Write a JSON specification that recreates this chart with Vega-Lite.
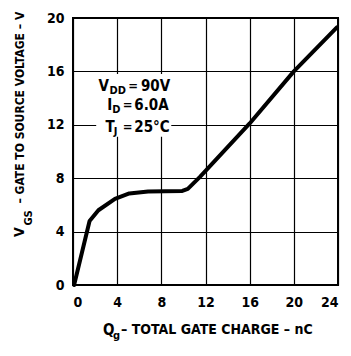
{
  "$schema": "https://vega.github.io/schema/vega-lite/v6.json",
  "width": 265,
  "height": 267,
  "autosize": {"type": "none"},
  "padding": {"left": 73, "top": 18, "right": 13, "bottom": 71},
  "background": "white",
  "config": {
    "font": "DejaVu Sans Condensed",
    "view": {"stroke": "black", "strokeWidth": 2},
    "axis": {
      "grid": true, "gridColor": "black", "gridOpacity": 1, "gridWidth": 1.2,
      "domain": false, "ticks": false, "labelFont": "DejaVu Sans Condensed",
      "labelFontWeight": "bold", "labelFontSize": 14, "labelColor": "black",
      "title": null
    }
  },
  "layer": [
    {
      "data": {"values": [{"x": 2.1, "x2": 8.9, "y": 11.1, "y2": 15.8}]},
      "mark": {"type": "rect", "fill": "white"},
      "encoding": {
        "x": {"field": "x", "type": "quantitative", "scale": {"domain": [0, 24], "nice": false},
              "axis": {"values": [0, 4, 8, 12, 16, 20, 24], "labelPadding": 10}},
        "x2": {"field": "x2"},
        "y": {"field": "y", "type": "quantitative", "scale": {"domain": [0, 20], "nice": false},
              "axis": {"values": [0, 4, 8, 12, 16, 20], "labelPadding": 9}},
        "y2": {"field": "y2"}
      }
    },
    {
      "data": {"values": [
        {"q": 0.1, "v": 0.0}, {"q": 1.5, "v": 4.8}, {"q": 2.3, "v": 5.6},
        {"q": 3.8, "v": 6.45}, {"q": 5.1, "v": 6.86}, {"q": 6.8, "v": 7.0},
        {"q": 9.9, "v": 7.05}, {"q": 10.4, "v": 7.2}, {"q": 11.5, "v": 8.1},
        {"q": 16.0, "v": 12.1}, {"q": 20.0, "v": 16.0}, {"q": 23.9, "v": 19.3}
      ]},
      "mark": {"type": "line", "color": "black", "strokeWidth": 4, "strokeJoin": "round", "strokeCap": "round"},
      "encoding": {
        "x": {"field": "q", "type": "quantitative"},
        "y": {"field": "v", "type": "quantitative"}
      }
    },
    {
      "data": {"values": [
        {"x": 2.3, "y": 14.87, "t": "V"},
        {"x": 6.15, "y": 14.87, "t": "90V"},
        {"x": 3.1, "y": 13.45, "t": "I"},
        {"x": 5.55, "y": 13.45, "t": "6.0A"},
        {"x": 2.95, "y": 11.8, "t": "T"},
        {"x": 5.55, "y": 11.8, "t": "25°C"},
        {"x": 2.72, "y": -3.36, "t": "Q"}
      ]},
      "mark": {"type": "text", "align": "left", "baseline": "middle", "fontSize": 15, "fontWeight": "bold", "color": "black"},
      "encoding": {
        "x": {"field": "x", "type": "quantitative"},
        "y": {"field": "y", "type": "quantitative"},
        "text": {"field": "t"}
      }
    },
    {
      "data": {"values": [
        {"x": 5.0, "y": 14.87, "t": "="},
        {"x": 4.5, "y": 13.45, "t": "="},
        {"x": 4.5, "y": 11.8, "t": "="}
      ]},
      "mark": {"type": "text", "align": "left", "baseline": "middle", "fontSize": 13, "fontWeight": "bold", "color": "black"},
      "encoding": {
        "x": {"field": "x", "type": "quantitative"},
        "y": {"field": "y", "type": "quantitative"},
        "text": {"field": "t"}
      }
    },
    {
      "data": {"values": [
        {"x": 4.35, "y": -3.36, "t": "– TOTAL GATE CHARGE – nC"}
      ]},
      "mark": {"type": "text", "align": "left", "baseline": "middle", "fontSize": 14, "fontWeight": "bold", "color": "black"},
      "encoding": {
        "x": {"field": "x", "type": "quantitative"},
        "y": {"field": "y", "type": "quantitative"},
        "text": {"field": "t"}
      }
    },
    {
      "data": {"values": [
        {"x": 3.3, "y": 14.5, "t": "DD"},
        {"x": 3.55, "y": 13.08, "t": "D"},
        {"x": 3.7, "y": 11.46, "t": "J"},
        {"x": 3.62, "y": -3.8, "t": "g"}
      ]},
      "mark": {"type": "text", "align": "left", "baseline": "middle", "fontSize": 11, "fontWeight": "bold", "color": "black"},
      "encoding": {
        "x": {"field": "x", "type": "quantitative"},
        "y": {"field": "y", "type": "quantitative"},
        "text": {"field": "t"}
      }
    },
    {
      "data": {"values": [
        {"x": -4.8, "y": 3.59, "t": "V"}
      ]},
      "mark": {"type": "text", "align": "left", "baseline": "middle", "angle": 270, "fontSize": 14, "fontWeight": "bold", "color": "black"},
      "encoding": {
        "x": {"field": "x", "type": "quantitative"},
        "y": {"field": "y", "type": "quantitative"},
        "text": {"field": "t"}
      }
    },
    {
      "data": {"values": [
        {"x": -4.8, "y": 6.1, "t": "– GATE TO SOURCE VOLTAGE – V"}
      ]},
      "mark": {"type": "text", "align": "left", "baseline": "middle", "angle": 270, "fontSize": 12, "fontWeight": "bold", "color": "black"},
      "encoding": {
        "x": {"field": "x", "type": "quantitative"},
        "y": {"field": "y", "type": "quantitative"},
        "text": {"field": "t"}
      }
    },
    {
      "data": {"values": [
        {"x": -4.0, "y": 4.45, "t": "GS"}
      ]},
      "mark": {"type": "text", "align": "left", "baseline": "middle", "angle": 270, "fontSize": 11, "fontWeight": "bold", "color": "black"},
      "encoding": {
        "x": {"field": "x", "type": "quantitative"},
        "y": {"field": "y", "type": "quantitative"},
        "text": {"field": "t"}
      }
    }
  ]
}
